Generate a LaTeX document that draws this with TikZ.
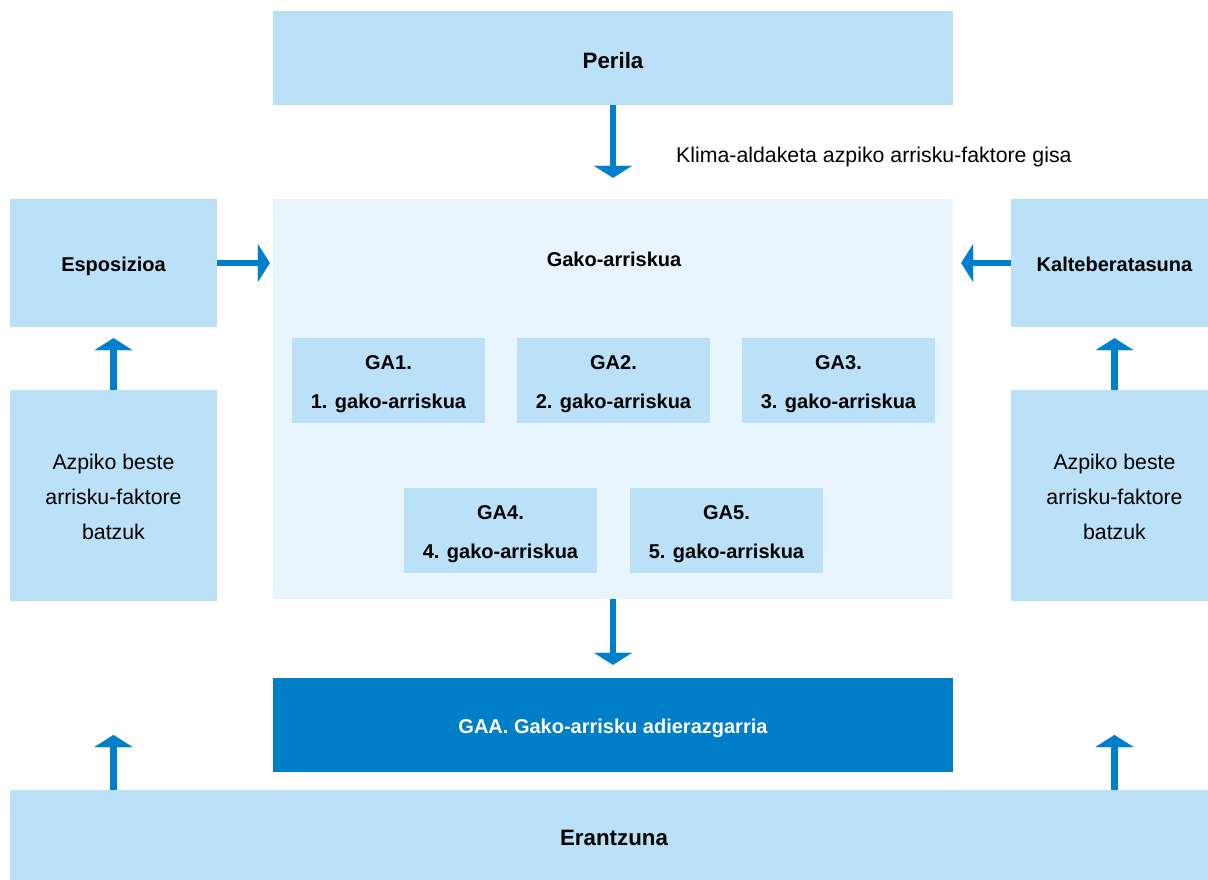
\documentclass[tikz,border=0pt]{standalone}
\usepackage{fontspec}
\setmainfont{Liberation Sans}
\usetikzlibrary{arrows.meta}
\definecolor{lb}{RGB}{186,225,248}
\definecolor{vlb}{RGB}{232,245,253}
\definecolor{db}{RGB}{0,126,200}
\definecolor{ar}{RGB}{0,128,204}
\newcommand{\gastr}{\rule{0pt}{20.6pt}}
\newcommand{\smstr}{\rule{0pt}{18.2pt}}
\begin{document}
\begin{tikzpicture}[x=1pt,y=-1pt,
  box/.style={fill=lb, inner sep=0pt, align=center, text=black},
  bigtxt/.style={font=\bfseries\fontsize{22.3}{26}\selectfont, execute at begin node={\rule{0pt}{21pt}}},
  gatxt/.style={font=\bfseries\fontsize{20}{39}\selectfont},
  gastrut/.style={execute at begin node={\rule[-4.2pt]{0pt}{24.8pt}}},
  smtxt/.style={font=\fontsize{21.3}{35}\selectfont},
  arr/.style={draw=ar, line width=6.5pt, -{Triangle[width=38pt,length=12pt,line width=0.01pt]}}
]
\useasboundingbox (0,0) rectangle (1208,880);
\fill[white] (0,0) rectangle (1208,880);
% boxes
\node[box, bigtxt, minimum width=680pt, minimum height=94pt] (perila) at (613,58) {Perila};
\node[fill=vlb, inner sep=0pt, minimum width=680pt, minimum height=400pt] (gako) at (613,399) {};
\node[gatxt] (gtitle) at (614,259) {Gako-arriskua};
\node[box, gatxt, gastrut, minimum width=207pt, minimum height=128pt] (esp) at (113.5,263) {Esposizioa};
\node[box, gatxt, gastrut, minimum width=207pt, minimum height=128pt] (kal) at (1114.5,263) {Kalteberatasuna};
\node[box, gatxt, minimum width=193pt, minimum height=85pt] (ga1) at (388.5,380.5) {\gastr GA1.\\1. gako-arriskua};
\node[box, gatxt, minimum width=193pt, minimum height=85pt] (ga2) at (613.5,380.5) {\gastr GA2.\\2. gako-arriskua};
\node[box, gatxt, minimum width=193pt, minimum height=85pt] (ga3) at (838.5,380.5) {\gastr GA3.\\3. gako-arriskua};
\node[box, gatxt, minimum width=193pt, minimum height=85pt] (ga4) at (500.5,530.5) {\gastr GA4.\\4. gako-arriskua};
\node[box, gatxt, minimum width=193pt, minimum height=85pt] (ga5) at (726.5,530.5) {\gastr GA5.\\5. gako-arriskua};
\node[box, smtxt, minimum width=207pt, minimum height=211pt] (azl) at (113.5,495.5) {\smstr Azpiko beste\\arrisku-faktore\\batzuk};
\node[box, smtxt, minimum width=207pt, minimum height=211pt] (azr) at (1114.5,495.5) {\smstr Azpiko beste\\arrisku-faktore\\batzuk};
\node[fill=db, text=white, inner sep=0pt, gatxt, gastrut, minimum width=680pt, minimum height=94pt] (gaa) at (613,725) {GAA. Gako-arrisku adierazgarria};
\node[box, bigtxt, minimum width=1208pt, minimum height=90pt] (eran) at (614,835) {Erantzuna};
\node[smtxt, anchor=west, inner sep=0pt] (klima) at (676,157) {Klima-aldaketa azpiko arrisku-faktore gisa};
% arrows
\draw[arr, shorten >=21pt] (perila.south) -- (gako.north);
\draw[arr, shorten >=3pt] (esp.east) -- (esp.east -| gako.west);
\draw[arr, shorten >=8pt] (kal.west) -- (kal.west -| gako.east);
\draw[arr, shorten >=11pt] (azl.north) -- (esp.south);
\draw[arr, shorten >=11pt] (azr.north) -- (kal.south);
\draw[arr, shorten >=13pt] (gako.south) -- (gaa.north);
\coordinate (el) at (113.5,735);
\coordinate (er) at (1114.5,735);
\draw[arr] (el |- eran.north) -- (el);
\draw[arr] (er |- eran.north) -- (er);
\end{tikzpicture}
\end{document}
